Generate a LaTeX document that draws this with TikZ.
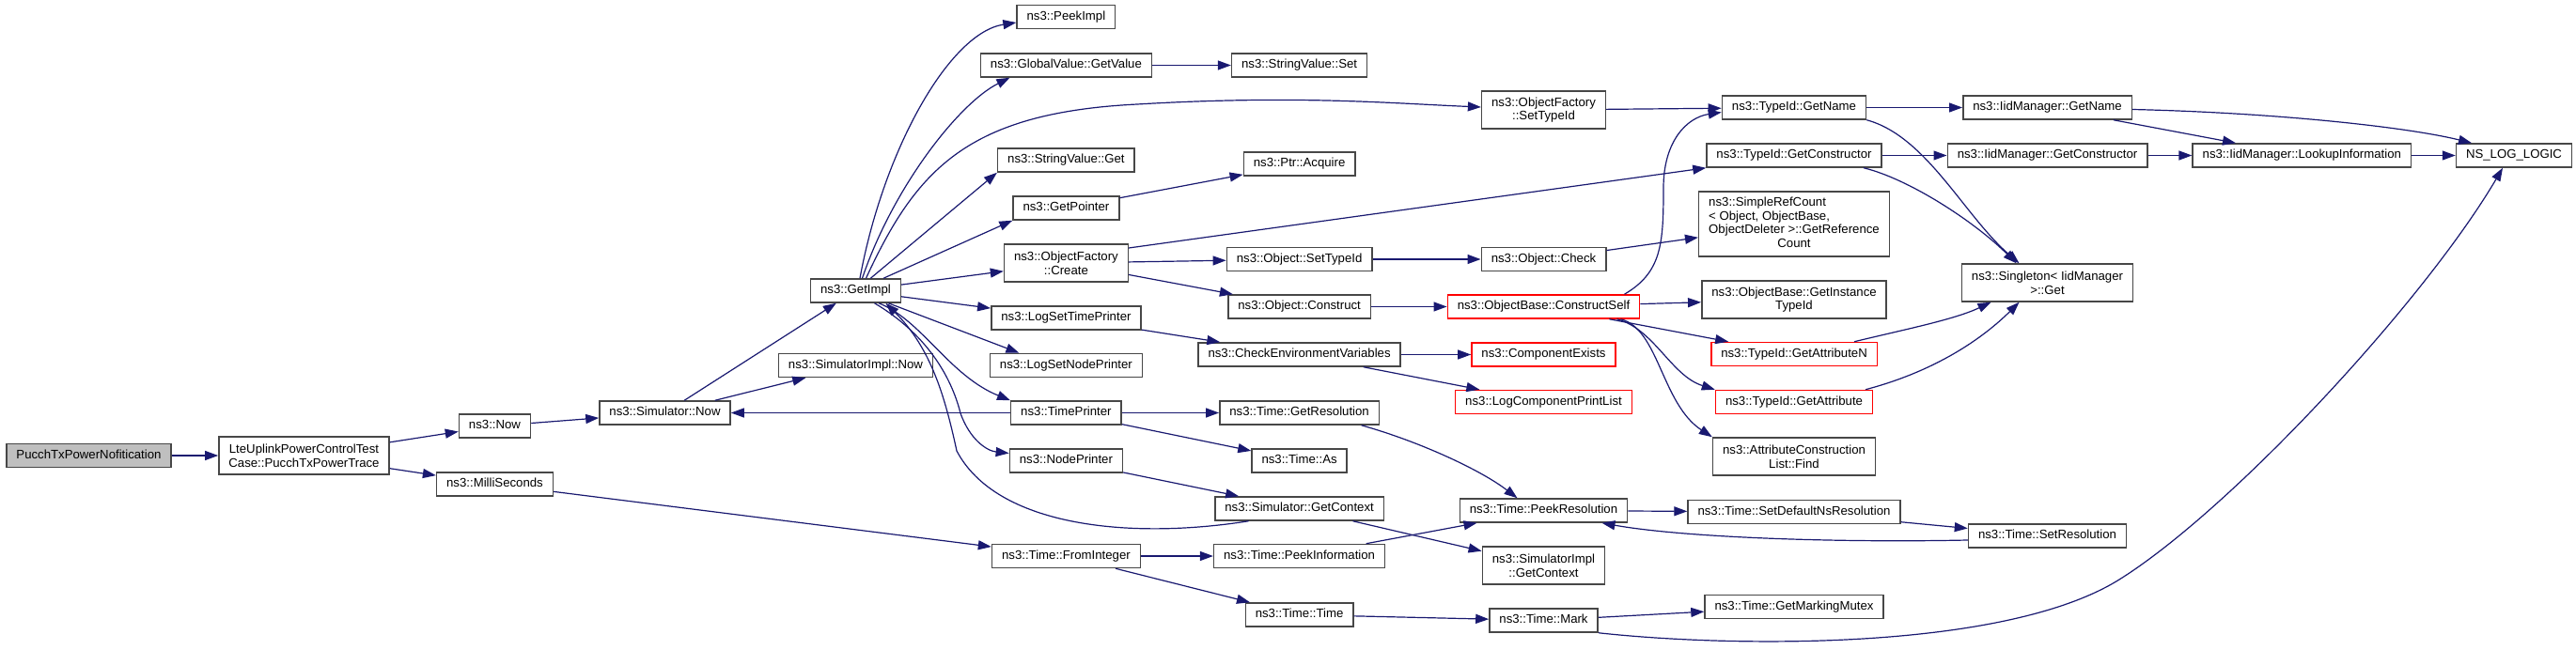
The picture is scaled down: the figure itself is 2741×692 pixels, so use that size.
\documentclass[tikz,border=0pt]{standalone}
\usepackage{fontspec}
\setmainfont{Liberation Sans}
\usetikzlibrary{arrows.meta}
\definecolor{edgeblue}{RGB}{25,25,112}
\definecolor{rootgray}{RGB}{191,191,191}
\newcommand{\callfont}{\fontsize{13.2}{14.8}\selectfont}

\begin{document}
\begin{tikzpicture}[x=1pt, y=-1pt,
		box/.style={draw=black!72, line width=1.5pt, fill=white, font=\callfont, inner xsep=10.5pt, inner ysep=3pt, align=center},
		fn/.style={box, minimum height=25pt, text height=9.6pt, text depth=2.7pt},
		fntwo/.style={box, minimum height=40pt},
		trunc/.style={draw=red},
		call/.style={draw=edgeblue, line width=1.2pt, -{Triangle[length=14pt,width=10pt]}}]
		\useasboundingbox (0,0) rectangle (2741,692);

		% nodes, column by column
		\node[fn, fill=rootgray] (pucch) at (94.5,485) {PucchTxPowerNofitication};
		\node[fntwo] (lte) at (323.5,485) {LteUplinkPowerControlTest\\Case::PucchTxPowerTrace};

		\node[fn] (now) at (526.5,453.5) {ns3::Now};
		\node[fn] (milli) at (526.5,515.5) {ns3::MilliSeconds};
		\node[fn] (simnow) at (707.5,439.5) {ns3::Simulator::Now};
		\node[fn] (gimpl) at (910.5,309.5) {ns3::GetImpl};
		\node[fn] (simimplnow) at (910.5,389) {ns3::SimulatorImpl::Now};

		\node[fn] (peekimpl) at (1134.4,18) {ns3::PeekImpl};
		\node[fn] (gvalue) at (1134.4,69.5) {ns3::GlobalValue::GetValue};
		\node[fn] (svget) at (1134.4,170.5) {ns3::StringValue::Get};
		\node[fn] (gptr) at (1134.4,221.5) {ns3::GetPointer};
		\node[fntwo] (create) at (1134.4,280) {ns3::ObjectFactory\\::Create};
		\node[fn] (lstime) at (1134.4,338.5) {ns3::LogSetTimePrinter};
		\node[fn] (lsnode) at (1134.4,389) {ns3::LogSetNodePrinter};
		\node[fn] (tprint) at (1134.4,439.5) {ns3::TimePrinter};
		\node[fn] (nprint) at (1134.4,490.5) {ns3::NodePrinter};
		\node[fn] (fromint) at (1134.4,592) {ns3::Time::FromInteger};

		\node[fn] (svset) at (1382.6,69.5) {ns3::StringValue::Set};
		\node[fn] (acquire) at (1382.6,174.5) {ns3::Ptr::Acquire};
		\node[fn] (osettype) at (1382.6,276) {ns3::Object::SetTypeId};
		\node[fn] (oconstruct) at (1382.6,326.5) {ns3::Object::Construct};
		\node[fn] (checkenv) at (1382.6,377.5) {ns3::CheckEnvironmentVariables};
		\node[fn] (gres) at (1382.6,439.5) {ns3::Time::GetResolution};
		\node[fn] (tas) at (1382.6,490.5) {ns3::Time::As};
		\node[fn] (simctx) at (1382.6,541.5) {ns3::Simulator::GetContext};
		\node[fn] (peekinfo) at (1382.6,592) {ns3::Time::PeekInformation};
		\node[fn] (ttime) at (1382.6,654.5) {ns3::Time::Time};

		\node[fntwo] (ofsettype) at (1642.5,117) {ns3::ObjectFactory\\::SetTypeId};
		\node[fn] (ocheck) at (1642.5,276) {ns3::Object::Check};
		\node[fn, trunc] (cself) at (1642.5,326.5) {ns3::ObjectBase::ConstructSelf};
		\node[fn, trunc] (compex) at (1642.5,377.5) {ns3::ComponentExists};
		\node[fn, trunc] (lcplist) at (1642.5,428) {ns3::LogComponentPrintList};
		\node[fn] (pres) at (1642.5,543.5) {ns3::Time::PeekResolution};
		\node[fntwo] (simimplctx) at (1642.5,602) {ns3::SimulatorImpl\\::GetContext};
		\node[fn] (tmark) at (1642.5,660.5) {ns3::Time::Mark};

		\node[fn] (tgname) at (1909,114.5) {ns3::TypeId::GetName};
		\node[fn] (tgcons) at (1909,165.5) {ns3::TypeId::GetConstructor};
		\node[fntwo, minimum height=69pt] (refcount) at (1909,238.5) {\begin{tabular}{@{}l@{}}ns3::SimpleRefCount\\< Object, ObjectBase,\\ ObjectDeleter >::GetReference\\\multicolumn{1}{@{}c@{}}{Count}\end{tabular}};
		\node[fntwo] (ginst) at (1909,319) {ns3::ObjectBase::GetInstance\\TypeId};
		\node[fn, trunc] (gattrn) at (1909,377) {ns3::TypeId::GetAttributeN};
		\node[fn, trunc] (gattr) at (1909,428) {ns3::TypeId::GetAttribute};
		\node[fntwo] (afind) at (1909,486) {ns3::AttributeConstruction\\List::Find};
		\node[fn] (setdefres) at (1909,545) {ns3::Time::SetDefaultNsResolution};
		\node[fn] (mutex) at (1909,646) {ns3::Time::GetMarkingMutex};

		\node[fn] (iname) at (2178.5,114.5) {ns3::IidManager::GetName};
		\node[fn] (icons) at (2178.5,165.5) {ns3::IidManager::GetConstructor};
		\node[fntwo] (singleton) at (2178.5,301) {ns3::Singleton< IidManager\\>::Get};
		\node[fn] (setres) at (2178.5,570.5) {ns3::Time::SetResolution};
		\node[fn] (lookup) at (2449.3,165.5) {ns3::IidManager::LookupInformation};
		\node[fn] (nslog) at (2675,165.5) {NS\_LOG\_LOGIC};

		% calls
		\draw[call] (pucch) -- (lte);
		\draw[call] (lte) -- (now);
		\draw[call] (lte) -- (milli);
		\draw[call] (now) -- (simnow);
		\draw[call] (milli) -- (fromint);
		\draw[call] (simnow) -- (gimpl);
		\draw[call] (simnow) -- (simimplnow);
		\draw[call] (tprint) -- (simnow);

		\draw[call] ([xshift=4.5pt]gimpl.north) .. controls (940,160) and (1010,35) .. ([yshift=-6pt]peekimpl.west);
		\draw[call] ([xshift=7pt]gimpl.north) .. controls (950,200) and (1020,110) .. ([xshift=-60pt]gvalue.south);
		\draw[call] ([xshift=11pt]gimpl.north) .. controls (975,180) and (1030,120) .. (1210,111) .. controls (1380,101) and (1480,110) .. ([yshift=3pt]ofsettype.west);
		\draw[call] (gimpl) -- (svget.south west);
		\draw[call] (gimpl) -- (gptr.south west);
		\draw[call] (gimpl) -- (create);
		\draw[call] (gimpl) -- (lstime);
		\draw[call] (gimpl) -- ([xshift=-50pt]lsnode.north);
		\draw[call] ([xshift=24.5pt]gimpl.south) .. controls (980,340) and (1010,400) .. (tprint.north west);
		\draw[call] ([xshift=20pt]gimpl.south) .. controls (985,355) and (1012,400) .. (1022,440) .. controls (1032,468) and (1050,480) .. ([yshift=8pt]nprint.west);
		\draw[call] ([xshift=-54pt]simctx.south) .. controls (1200,575) and (1060,560) .. (1018,480) .. controls (1005,420) and (990,370) .. ([xshift=32pt]gimpl.south);

		\draw[call] (gvalue) -- (svset);
		\draw[call] (gptr) -- (acquire);
		\draw[call] ([yshift=16pt]create.east) -- (tgcons.south west);
		\draw[call] (create) -- (osettype);
		\draw[call] (create) -- (oconstruct);
		\draw[call] (lstime) -- (checkenv);
		\draw[call] (tprint) -- (gres);
		\draw[call] (tprint) -- (tas);
		\draw[call] (nprint) -- (simctx);
		\draw[call] (fromint) -- (peekinfo);
		\draw[call] (fromint) -- (ttime);

		\draw[call] (osettype) -- (ocheck);
		\draw[call] (oconstruct) -- (cself);
		\draw[call] (checkenv) -- (compex);
		\draw[call] (checkenv) -- (lcplist);
		\draw[call] ([xshift=66pt]gres.south) .. controls (1510,470) and (1575,500) .. ([xshift=-28pt]pres.north);
		\draw[call] (simctx) -- (simimplctx);
		\draw[call] (peekinfo) -- (pres);
		\draw[call] (ttime) -- (tmark);

		\draw[call] (ofsettype) -- (tgname);
		\draw[call] (ocheck) -- (refcount);
		\draw[call] ([xshift=86pt]cself.north) .. controls (1768,290) and (1770,260) .. (1770,200) .. controls (1770,150) and (1795,125) .. ([yshift=-5pt]tgname.west);
		\draw[call] (cself) -- (ginst);
		\draw[call] (cself) -- (gattrn);
		\draw[call] ([xshift=78pt]cself.south) .. controls (1760,350) and (1778,400) .. (gattr.north west);
		\draw[call] ([xshift=82pt]cself.south) .. controls (1765,350) and (1768,430) .. (afind.north west);
		\draw[call] (pres) -- (setdefres);
		\draw[call] (tmark) -- (mutex);
		\draw[call] (tmark.south east) .. controls (1850,690) and (2135,692) .. (2255,617) .. controls (2375,542) and (2580,320) .. ([xshift=-12pt]nslog.south);

		\draw[call] (tgname) -- (iname);
		\draw[call] (tgname.south east) .. controls (2050,145) and (2090,230) .. ([xshift=-30pt]singleton.north);
		\draw[call] (tgcons) -- (icons);
		\draw[call] ([xshift=74pt]tgcons.south) .. controls (2030,190) and (2100,235) .. ([xshift=-33pt]singleton.north);
		\draw[call] ([xshift=64pt]gattrn.north) .. controls (2030,350) and (2080,340) .. ([xshift=-60pt]singleton.south);
		\draw[call] ([xshift=76pt]gattr.north) .. controls (2060,395) and (2110,360) .. ([xshift=-30pt]singleton.south);
		\draw[call] (setdefres) -- (setres);
		\draw[call] ([yshift=-4.5pt]setres.west) .. controls (1950,578) and (1790,572) .. ([xshift=62pt]pres.south);

		\draw[call] (iname) -- (lookup);
		\draw[call] ([yshift=-2pt]iname.east) .. controls (2420,120) and (2560,135) .. ([xshift=-45pt]nslog.north);
		\draw[call] (icons) -- (lookup);
		\draw[call] (lookup) -- (nslog);
\end{tikzpicture}
\end{document}
